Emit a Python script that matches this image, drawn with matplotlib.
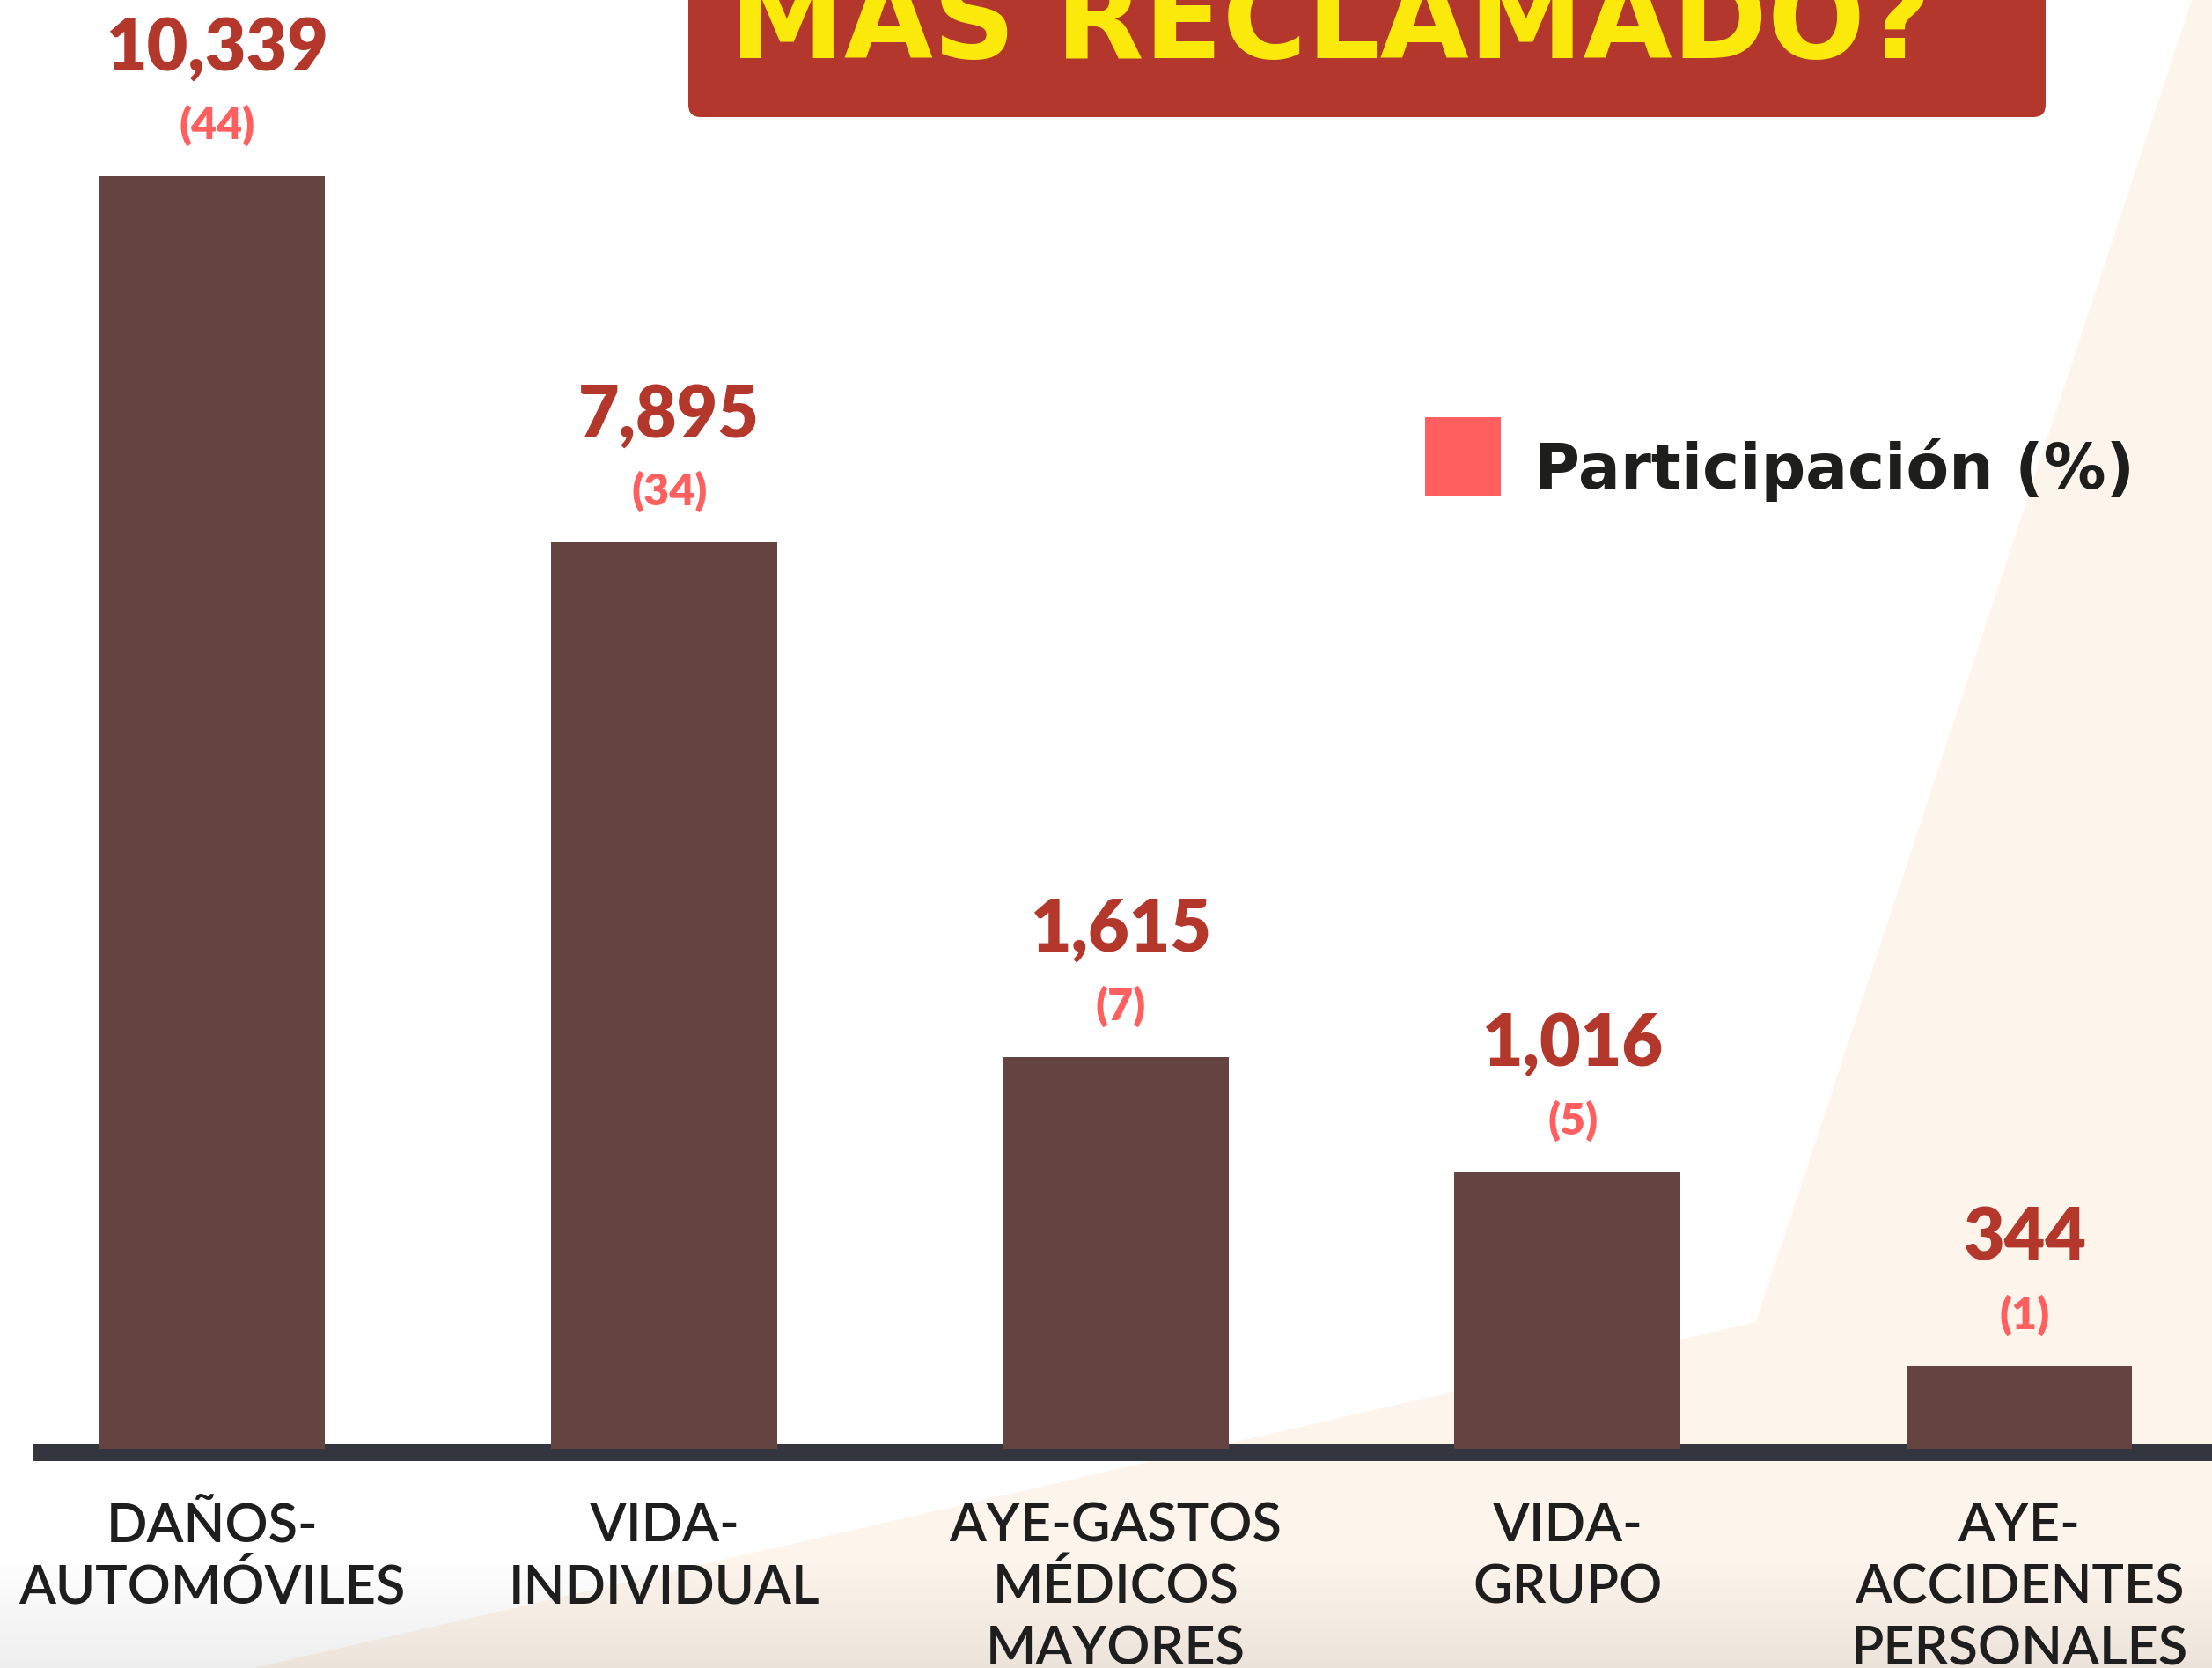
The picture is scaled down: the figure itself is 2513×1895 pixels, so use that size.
import matplotlib.pyplot as plt
import numpy as np
from matplotlib.patches import Rectangle, Polygon, FancyBboxPatch

# datos
ramos = ["DAÑOS-\nAUTOMÓVILES", "VIDA-\nINDIVIDUAL", "AYE-GASTOS\nMÉDICOS\nMAYORES",
         "VIDA-\nGRUPO", "AYE-\nACCIDENTES\nPERSONALES"]
reclamaciones = [10339, 7895, 1615, 1016, 344]
participacion = [44, 34, 7, 5, 1]
# altura de cada barra tal como se ve en la infografía (% de la barra mayor)
altura_barras = [100, 71.2, 30.8, 21.8, 6.5]

W, H = 2513, 1895
FUENTE = "Lato"
ANCHA = "DejaVu Sans"

fig = plt.figure(figsize=(W / 100, H / 100), dpi=100)
fig.patch.set_facecolor("white")

# fondo (coordenadas en pixeles, y hacia abajo)
bg = fig.add_axes([0, 0, 1, 1], zorder=0)
bg.set_xlim(0, W)
bg.set_ylim(H, 0)
bg.axis("off")

bg.add_patch(Polygon([(2490, 0), (W, 0), (W, H), (288, H), (1995, 1502)],
                     closed=True, facecolor="#fdf5eb", edgecolor="none"))

# sombra suave en la parte baja
grad = np.zeros((100, 1, 4))
grad[:, 0, 3] = np.linspace(0, 0.07, 100)
bg.imshow(grad, extent=(0, W, H, 1765), aspect="auto", zorder=1)

# cuadro del título
bg.add_patch(FancyBboxPatch((782, -100), 2324 - 782, 233,
                            boxstyle="round,pad=0,rounding_size=14",
                            facecolor="#b3372c", edgecolor="none", zorder=2))
bg.text(1512, 66, "MÁS RECLAMADO?", color="#fbe90c", fontsize=94,
        fontweight="bold", family=ANCHA, ha="center", va="baseline", zorder=3)

# leyenda
bg.add_patch(Rectangle((1619, 474), 86, 89, facecolor="#ff5f5f", edgecolor="none", zorder=2))
bg.text(1743, 555, "Participación (%)", color="#1e1e1c", fontsize=51,
        fontweight="bold", family=ANCHA, ha="left", va="baseline", zorder=3)

# línea base
bg.add_patch(Rectangle((38, 1640), W - 38, 20, facecolor="#33363e", edgecolor="none", zorder=2))

# gráfica de barras
ax = fig.add_axes([38 / W, (H - 1646) / H, (W - 38) / W, 1646 / H], zorder=1)
ax.patch.set_alpha(0)
ax.axis("off")
x = np.arange(len(ramos))
ax.bar(x, altura_barras, width=0.5, color="#634440")
ax.set_xlim(-0.3955, 4.4267)
ax.set_ylim(0, 113.8)

for i in range(len(ramos)):
    ax.annotate(f"{reclamaciones[i]:,}", (x[i], altura_barras[i]),
                xytext=(6, 120), textcoords="offset pixels", ha="center", va="baseline",
                fontsize=58, fontweight="heavy", family=FUENTE, color="#b3372b",
                annotation_clip=False)
    ax.annotate(f"({participacion[i]})", (x[i], altura_barras[i]),
                xytext=(6, 42), textcoords="offset pixels", ha="center", va="baseline",
                fontsize=36, fontweight="heavy", family=FUENTE, color="#ff5f5f",
                annotation_clip=False)
    for k, linea in enumerate(ramos[i].split("\n")):
        ax.annotate(linea, (x[i], 0), xytext=(0, -105 - 70 * k),
                    textcoords="offset pixels", ha="center", va="baseline",
                    fontsize=44, fontweight="semibold", family=FUENTE, color="#1e1e1e",
                    annotation_clip=False)

fig.savefig("out.png", dpi=100)
